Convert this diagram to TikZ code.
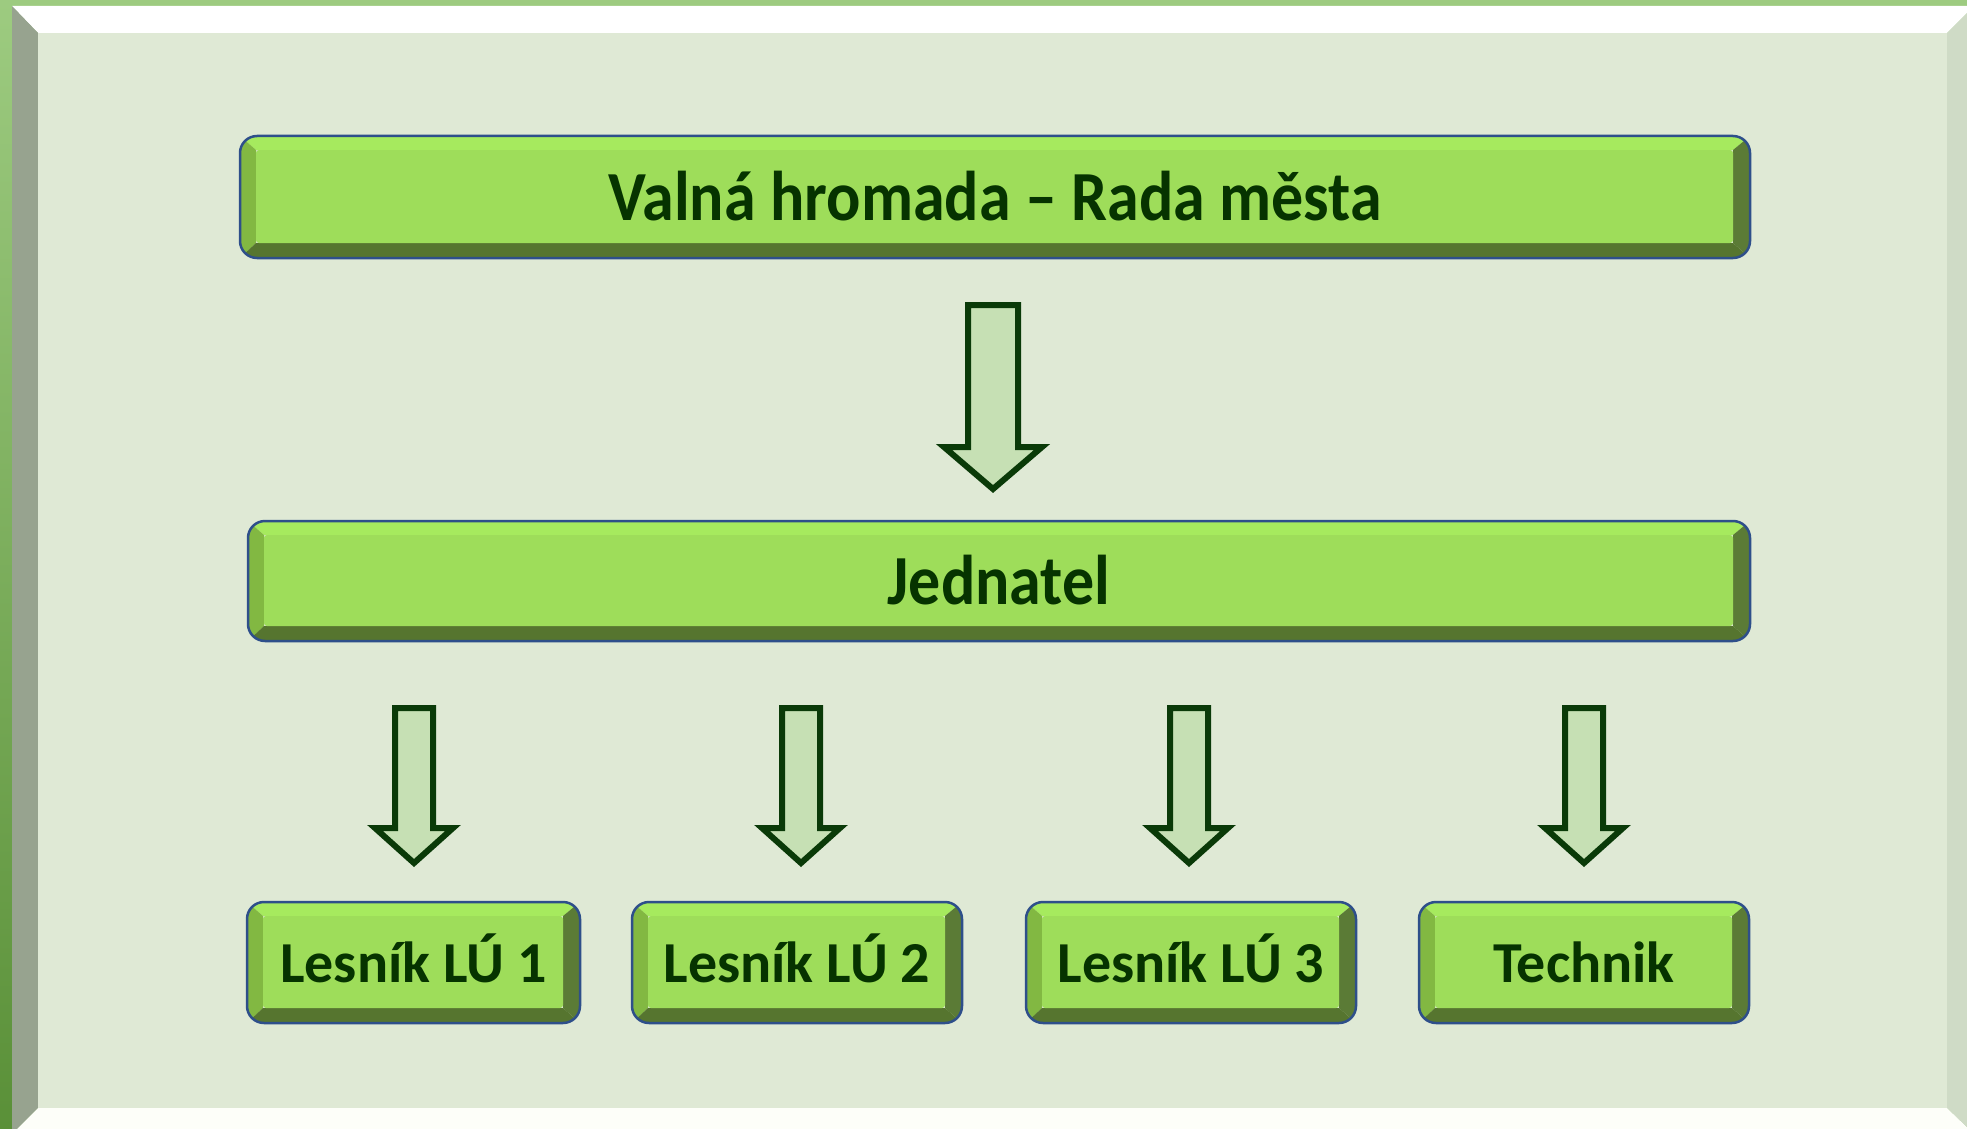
\documentclass[tikz,border=0pt]{standalone}
\usepackage{fontspec}
\setmainfont{Carlito}
\usetikzlibrary{calc}
\definecolor{bgIn}{HTML}{DFE9D5}
\definecolor{bvLeft}{HTML}{97A38F}
\definecolor{bvRight}{HTML}{CFDBC6}
\definecolor{bvBottom}{HTML}{FDFEF9}
\definecolor{grTop}{HTML}{9DCB80}
\definecolor{grBot}{HTML}{5A9038}
\definecolor{face}{HTML}{9EDD5A}
\definecolor{faceT}{HTML}{A6EA5E}
\definecolor{faceL}{HTML}{82B842}
\definecolor{faceR}{HTML}{5B7B36}
\definecolor{faceB}{HTML}{56752F}
\definecolor{border}{HTML}{2E4F8A}
\definecolor{txt}{HTML}{063300}
\definecolor{arrFill}{HTML}{C6E0B4}
\definecolor{arrLine}{HTML}{0A3A08}
\tikzset{
  boxtext/.style={font=\fontsize{58}{62}\selectfont\bfseries, text=txt, inner sep=0pt, text height=37pt, text depth=0pt},
  bigtext/.style={font=\fontsize{64}{68}\selectfont\bfseries, text=txt, inner sep=0pt, text height=45pt, text depth=0pt},
  boxborder/.style={draw=border, line width=2.5pt, rounded corners=17pt},
  blockarrow/.style={draw=arrLine, fill=arrFill, line width=6pt, line join=miter},
}
\newcommand\bevelbox[7]{% name, x1,y1,x2,y2, text style, text
  \begin{scope}
    \clip[rounded corners=17pt] (#2,#3) rectangle (#4,#5);
    \fill[faceT] (#2,#3) -- (#4,#3) -- ({#4-17},{#3+14}) -- ({#2+16},{#3+14}) -- cycle;
    \fill[faceL] (#2,#3) -- ({#2+16},{#3+14}) -- ({#2+16},{#5-15}) -- (#2,#5) -- cycle;
    \fill[faceR] (#4,#3) -- (#4,#5) -- ({#4-17},{#5-15}) -- ({#4-17},{#3+14}) -- cycle;
    \fill[faceB] (#2,#5) -- ({#2+16},{#5-15}) -- ({#4-17},{#5-15}) -- (#4,#5) -- cycle;
    \fill[face, rounded corners=3pt] ({#2+16},{#3+14}) rectangle ({#4-17},{#5-15});
  \end{scope}
  \draw[boxborder] (#2,#3) rectangle (#4,#5);
  \node[#6] (#1) at ({(#2+#4)/2},{(#3+#5)/2+1}) {#7};
}
\newcommand\downarrowshape[6]{% cx, ytop, yneck, ytip, half shaft, half head
  \draw[blockarrow] ({#1-#5},#2) -- ({#1+#5},#2) -- ({#1+#5},#3) -- ({#1+#6},#3)
    -- (#1,#4) -- ({#1-#6},#3) -- ({#1-#5},#3) -- cycle;
}
\begin{document}
\begin{tikzpicture}[x=1pt,y=-1pt]
  \useasboundingbox (0,0) rectangle (1967,1129);
  \clip (0,0) rectangle (1967,1129);
  % outer frame
  \shade[top color=grTop, bottom color=grBot] (0,0) rectangle (1967,1129);
  \fill[grTop] (0,0) rectangle (1967,6);
  \fill[white] (12,6) -- (1974,6) -- (1947,33) -- (38,33) -- cycle;
  \fill[bvLeft] (12,6) -- (38,33) -- (38,1108) -- (12,1134) -- cycle;
  \fill[bvRight] (1974,6) -- (1974,1134) -- (1947,1108) -- (1947,33) -- cycle;
  \fill[bvBottom] (12,1134) -- (38,1108) -- (1947,1108) -- (1974,1134) -- cycle;
  \fill[bgIn] (38,33) rectangle (1947,1108);
  % boxes
  \bevelbox{vh}{240}{136}{1750}{258}{bigtext}{\scalebox{1}[1.1]{Valná hromada – Rada města}}
  \bevelbox{jed}{248}{521}{1750}{641}{bigtext}{\scalebox{1}[1.1]{Jednatel}}
  \bevelbox{l1}{247}{902}{580}{1023}{boxtext}{Lesník LÚ 1}
  \bevelbox{l2}{632}{902}{962}{1023}{boxtext}{Lesník LÚ 2}
  \bevelbox{l3}{1026}{902}{1356}{1023}{boxtext}{Lesník LÚ 3}
  \bevelbox{tech}{1419}{902}{1749}{1023}{boxtext}{Technik}
  % arrows
  \downarrowshape{993}{305}{447}{489}{25}{49}
  \downarrowshape{414}{708}{828}{863}{19}{39}
  \downarrowshape{801}{708}{828}{863}{19}{39}
  \downarrowshape{1189}{708}{828}{863}{19}{39}
  \downarrowshape{1584}{708}{828}{863}{19}{39}
\end{tikzpicture}
\end{document}
